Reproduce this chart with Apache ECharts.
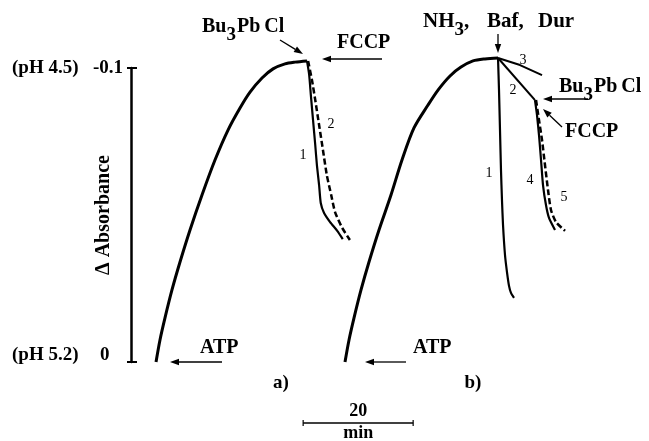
<!DOCTYPE html>
<html><head><meta charset="utf-8">
<script src="https://cdn.jsdelivr.net/npm/echarts@6/dist/echarts.min.js"></script>
<style>html,body{margin:0;padding:0;background:#fff}#c{width:649px;height:441px}</style>
</head><body><div id="c"></div>
<script>
// ---- data (x: minutes, y: delta absorbance) ----
const yTicks = [-0.1, 0];
const yTickLabels = ['-0.1', '0'];
const pHLabels = ['(pH 4.5)', '(pH 5.2)'];
const yAxisName = 'Δ Absorbance';
const scaleBarMinutes = 20;
const scaleBarStart = 31.3;

// panel a
const aMainX = [4.55, 5.27, 6.18, 7.45, 8.91, 10.73, 12.91, 15.27, 17.64, 19.82, 21.64, 23.82, 25.82, 28.0, 29.82, 32.0];
const aMainY = [0, -0.0075, -0.0150, -0.0245, -0.0340, -0.0449, -0.0568, -0.0687, -0.0789, -0.0864, -0.0918, -0.0966, -0.0997, -0.1014, -0.1020, -0.1024];
const a1X = [32.0, 32.4, 32.7, 33.1, 33.5, 33.8, 34.2, 34.5, 35.1, 36.2, 37.5, 38.5];
const a1Y = [-0.1024, -0.0976, -0.0908, -0.0823, -0.0738, -0.0670, -0.0602, -0.0541, -0.0507, -0.0476, -0.0446, -0.0418];
const a2X = [32.2, 32.9, 33.5, 34.2, 34.9, 35.6, 36.4, 37.1, 38.4, 39.8];
const a2Y = [-0.1024, -0.0959, -0.0891, -0.0806, -0.0721, -0.0636, -0.0568, -0.0510, -0.0456, -0.0415];

// panel b
const bMainX = [38.91, 39.64, 40.55, 41.82, 43.27, 45.09, 47.27, 49.27, 51.45, 54.0, 55.82, 58.0, 60.0, 62.18, 64.36, 66.73];
const bMainY = [0, -0.0075, -0.0150, -0.0245, -0.0340, -0.0449, -0.0568, -0.0687, -0.0796, -0.0874, -0.0925, -0.0973, -0.1003, -0.1024, -0.1031, -0.1034];
const b1X = [66.73, 66.91, 67.09, 67.27, 67.45, 67.64, 68.0, 68.36, 68.73, 69.09, 69.64];
const b1Y = [-0.1034, -0.0925, -0.0789, -0.0653, -0.0551, -0.0466, -0.0364, -0.0306, -0.0259, -0.0235, -0.0218];
const b2X = [66.73, 73.45];
const b2Y = [-0.1034, -0.0891];
const b3X = [66.73, 70.73, 74.73];
const b3Y = [-0.1034, -0.1010, -0.0976];
const b4X = [73.45, 73.82, 74.18, 74.55, 74.91, 75.45, 76.0, 77.09];
const b4Y = [-0.0891, -0.0840, -0.0772, -0.0687, -0.0602, -0.0534, -0.0490, -0.0449];
const b5X = [73.64, 74.18, 74.73, 75.27, 75.82, 76.36, 77.27, 78.91];
const b5Y = [-0.0891, -0.0823, -0.0755, -0.0670, -0.0585, -0.0517, -0.0476, -0.0446];

// ---- build ----
const FONT = '"Liberation Serif","Times New Roman",serif';
const zip = (xs, ys) => xs.map((x, i) => [x, ys[i]]);
const chart = echarts.init(document.getElementById('c'), null, {renderer: 'canvas'});

function line(name, xs, ys, width, dashed, smooth) {
  return {
    name, type: 'line', data: zip(xs, ys), showSymbol: false, clip: false,
    smooth: smooth || false, xAxisIndex: 0, yAxisIndex: 0,
    lineStyle: {color: '#000', width: width, type: dashed ? [6, 3] : 'solid', cap: 'butt'},
    z: 5
  };
}

const ctx = document.createElement('canvas').getContext('2d');
function measure(s, font) { ctx.font = font; return ctx.measureText(s).width; }
function txt(x, y, s, size, weight, align) {
  return {type: 'text', x, y, z: 10, style: {text: s, font: `${weight} ${size}px ${FONT}`, fill: '#000', align: align || 'left', verticalAlign: 'middle'}};
}
// parts: [text, isSub, gapAfter]
function compound(x, y, parts, size, subSize, subDy) {
  const out = [];
  let cx = x;
  parts.forEach(p => {
    const sz = p[1] ? subSize : size;
    const f = `bold ${sz}px ${FONT}`;
    out.push(txt(cx, y + (p[1] ? subDy : 0), p[0], sz, 'bold'));
    cx += measure(p[0], f) + (p[2] || 0);
  });
  return out;
}
function arrow(x1, y1, x2, y2, lw) {
  const ang = Math.atan2(y2 - y1, x2 - x1), L = 9, W = 3.2;
  const bx = x2 - L * Math.cos(ang), by = y2 - L * Math.sin(ang);
  const px = -Math.sin(ang) * W, py = Math.cos(ang) * W;
  return [
    {type: 'line', z: 10, shape: {x1, y1, x2: bx, y2: by}, style: {stroke: '#000', lineWidth: lw || 1.3}},
    {type: 'polygon', z: 10, shape: {points: [[x2, y2], [bx + px, by + py], [bx - px, by - py]]}, style: {fill: '#000'}}
  ];
}

const option = {
  animation: false,
  backgroundColor: '#fff',
  grid: {left: 131, top: 68, width: 495, height: 294, containLabel: false, outerBoundsMode: 'none'},
  xAxis: {type: 'value', min: 0, max: 90, show: false},
  yAxis: [{
    type: 'value', inverse: true, min: -0.1, max: 0, interval: 0.1, position: 'left',
    axisLine: {show: true, lineStyle: {color: '#000', width: 2.5}},
    axisTick: {show: true, inside: false, length: 4, lineStyle: {color: '#000', width: 2}},
    splitLine: {show: false},
    name: yAxisName, nameLocation: 'middle', nameGap: 17, nameMoveOverlap: false,
    nameTextStyle: {fontFamily: FONT, fontWeight: 'bold', fontSize: 20, color: '#000'},
    axisLabel: {
      margin: 119, align: 'left', color: '#000',
      formatter: v => {
        const i = yTicks.findIndex(t => Math.abs(t - v) < 1e-9);
        if (i < 0) return '';
        return i === 0 ? `{p|${pHLabels[i]}}{v|${yTickLabels[i]}}` : `{q|${pHLabels[i]}}{w|${yTickLabels[i]}}`;
      },
      rich: {
        p: {fontFamily: FONT, fontWeight: 'bold', fontSize: 19, color: '#000', width: 81},
        v: {fontFamily: FONT, fontWeight: 'bold', fontSize: 19, color: '#000'},
        q: {fontFamily: FONT, fontWeight: 'bold', fontSize: 19, color: '#000', width: 88, padding: [0, 0, 14, 0]},
        w: {fontFamily: FONT, fontWeight: 'bold', fontSize: 19, color: '#000', padding: [0, 0, 14, 0]}
      }
    }
  }, {
    type: 'value', inverse: true, min: -0.1, max: 0, interval: 0.1, position: 'left',
    axisLine: {show: false}, axisLabel: {show: false}, splitLine: {show: false},
    axisTick: {show: true, inside: true, length: 6, lineStyle: {color: '#000', width: 2}}
  }],
  series: [
    line('a main', aMainX, aMainY, 3, false, 0.3),
    line('a 1', a1X, a1Y, 2.2, false, 0.2),
    line('a 2', a2X, a2Y, 2.5, true, 0.2),
    line('b main', bMainX, bMainY, 3, false, 0.3),
    line('b 1', b1X, b1Y, 2.2, false, 0.2),
    line('b 2', b2X, b2Y, 2, false),
    line('b 3', b3X, b3Y, 2, false),
    line('b 4', b4X, b4Y, 2.2, false, 0.2),
    line('b 5', b5X, b5Y, 2.5, true, 0.2)
  ]
};
chart.setOption(option);

// annotations
const p0 = chart.convertToPixel({gridIndex: 0}, [scaleBarStart, 0]);
const p1 = chart.convertToPixel({gridIndex: 0}, [scaleBarStart + scaleBarMinutes, 0]);
const sbY = 423;
const g = [].concat(
  compound(202, 27, [['Bu'], ['3', true, 1], ['Pb', false, 4], ['Cl']], 20, 19, 8),
  arrow(280, 40, 303, 54),
  [txt(337, 43, 'FCCP', 20, 'bold')],
  arrow(382, 59, 322, 59),
  [txt(200, 348, 'ATP', 20, 'bold')],
  arrow(222, 362, 170, 362),
  [txt(281, 383, 'a)', 19, 'bold', 'center')],
  compound(423, 22, [['NH'], ['3', true], [',']], 21, 19, 8),
  [txt(487, 22, 'Baf,', 21, 'bold'), txt(538, 22, 'Dur', 21, 'bold')],
  arrow(498, 34, 498, 53),
  compound(559, 87, [['Bu'], ['3', true, 1], ['Pb', false, 4], ['Cl']], 20, 19, 8),
  arrow(588, 99, 543, 99),
  [txt(565, 132, 'FCCP', 20, 'bold')],
  arrow(562, 127, 543, 109),
  [txt(413, 348, 'ATP', 20, 'bold')],
  arrow(406, 362, 365, 362),
  [txt(473, 383, 'b)', 19, 'bold', 'center')],
  [txt(303, 155, '1', 14, 'normal', 'center'), txt(331, 124, '2', 14, 'normal', 'center'),
   txt(489, 173, '1', 14, 'normal', 'center'), txt(513, 90, '2', 14, 'normal', 'center'),
   txt(523, 60, '3', 14, 'normal', 'center'), txt(530, 180, '4', 14, 'normal', 'center'),
   txt(564, 197, '5', 14, 'normal', 'center')],
  [{type: 'line', shape: {x1: p0[0], y1: sbY, x2: p1[0], y2: sbY}, style: {stroke: '#000', lineWidth: 1.6}},
   {type: 'line', shape: {x1: p0[0], y1: sbY - 3, x2: p0[0], y2: sbY + 3}, style: {stroke: '#000', lineWidth: 1.2}},
   {type: 'line', shape: {x1: p1[0], y1: sbY - 3, x2: p1[0], y2: sbY + 3}, style: {stroke: '#000', lineWidth: 1.2}},
   txt((p0[0] + p1[0]) / 2, 411, String(scaleBarMinutes), 18, 'bold', 'center'),
   txt((p0[0] + p1[0]) / 2, 433, 'min', 18, 'bold', 'center')]
);
chart.setOption({graphic: g});
</script>
</body></html>
